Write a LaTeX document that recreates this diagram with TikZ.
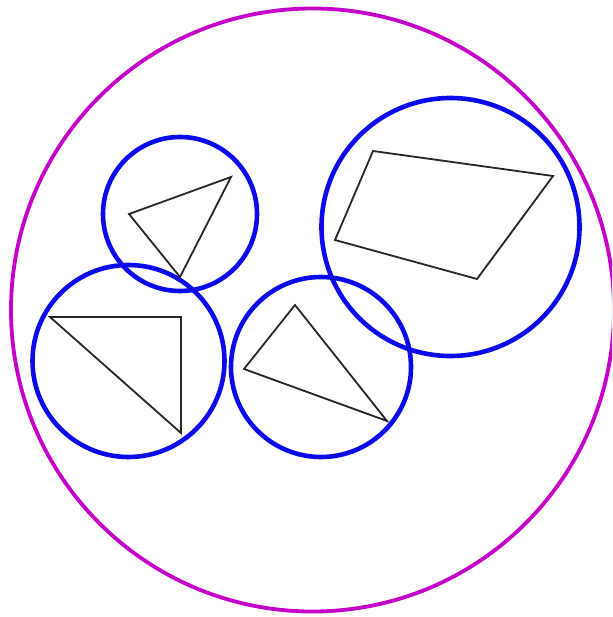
\documentclass[tikz,border=0pt]{standalone}
\definecolor{outerring}{RGB}{196,0,200}
\definecolor{setblue}{RGB}{10,10,235}
\begin{document}
\begin{tikzpicture}[x=1pt,y=-1pt,
  outer/.style={draw=outerring,line width=3.8pt},
  group/.style={draw=setblue,line width=4.6pt},
  polyline/.style={draw=black!85,line width=1.8pt,line join=miter}]
\useasboundingbox (0,0) rectangle (612,617);
\clip (0,0) rectangle (612,617);
% outer circle
\draw[outer] (312.5,310) circle (301.5);
% blue circles
\draw[group] (180,214) circle (77);
\draw[group] (128.5,361) circle (96);
\draw[group] (321,367) circle (90);
\draw[group] (450.5,227) circle (129);
% polygons
\draw[polyline] (129,214) -- (231,177) -- (180,277) -- cycle;
\draw[polyline] (50,317) -- (181,317) -- (181,433) -- cycle;
\draw[polyline] (295,305) -- (244,369) -- (387,421) -- cycle;
\draw[polyline] (373,151) -- (553,176) -- (477,279) -- (335,240) -- cycle;
\end{tikzpicture}
\end{document}
